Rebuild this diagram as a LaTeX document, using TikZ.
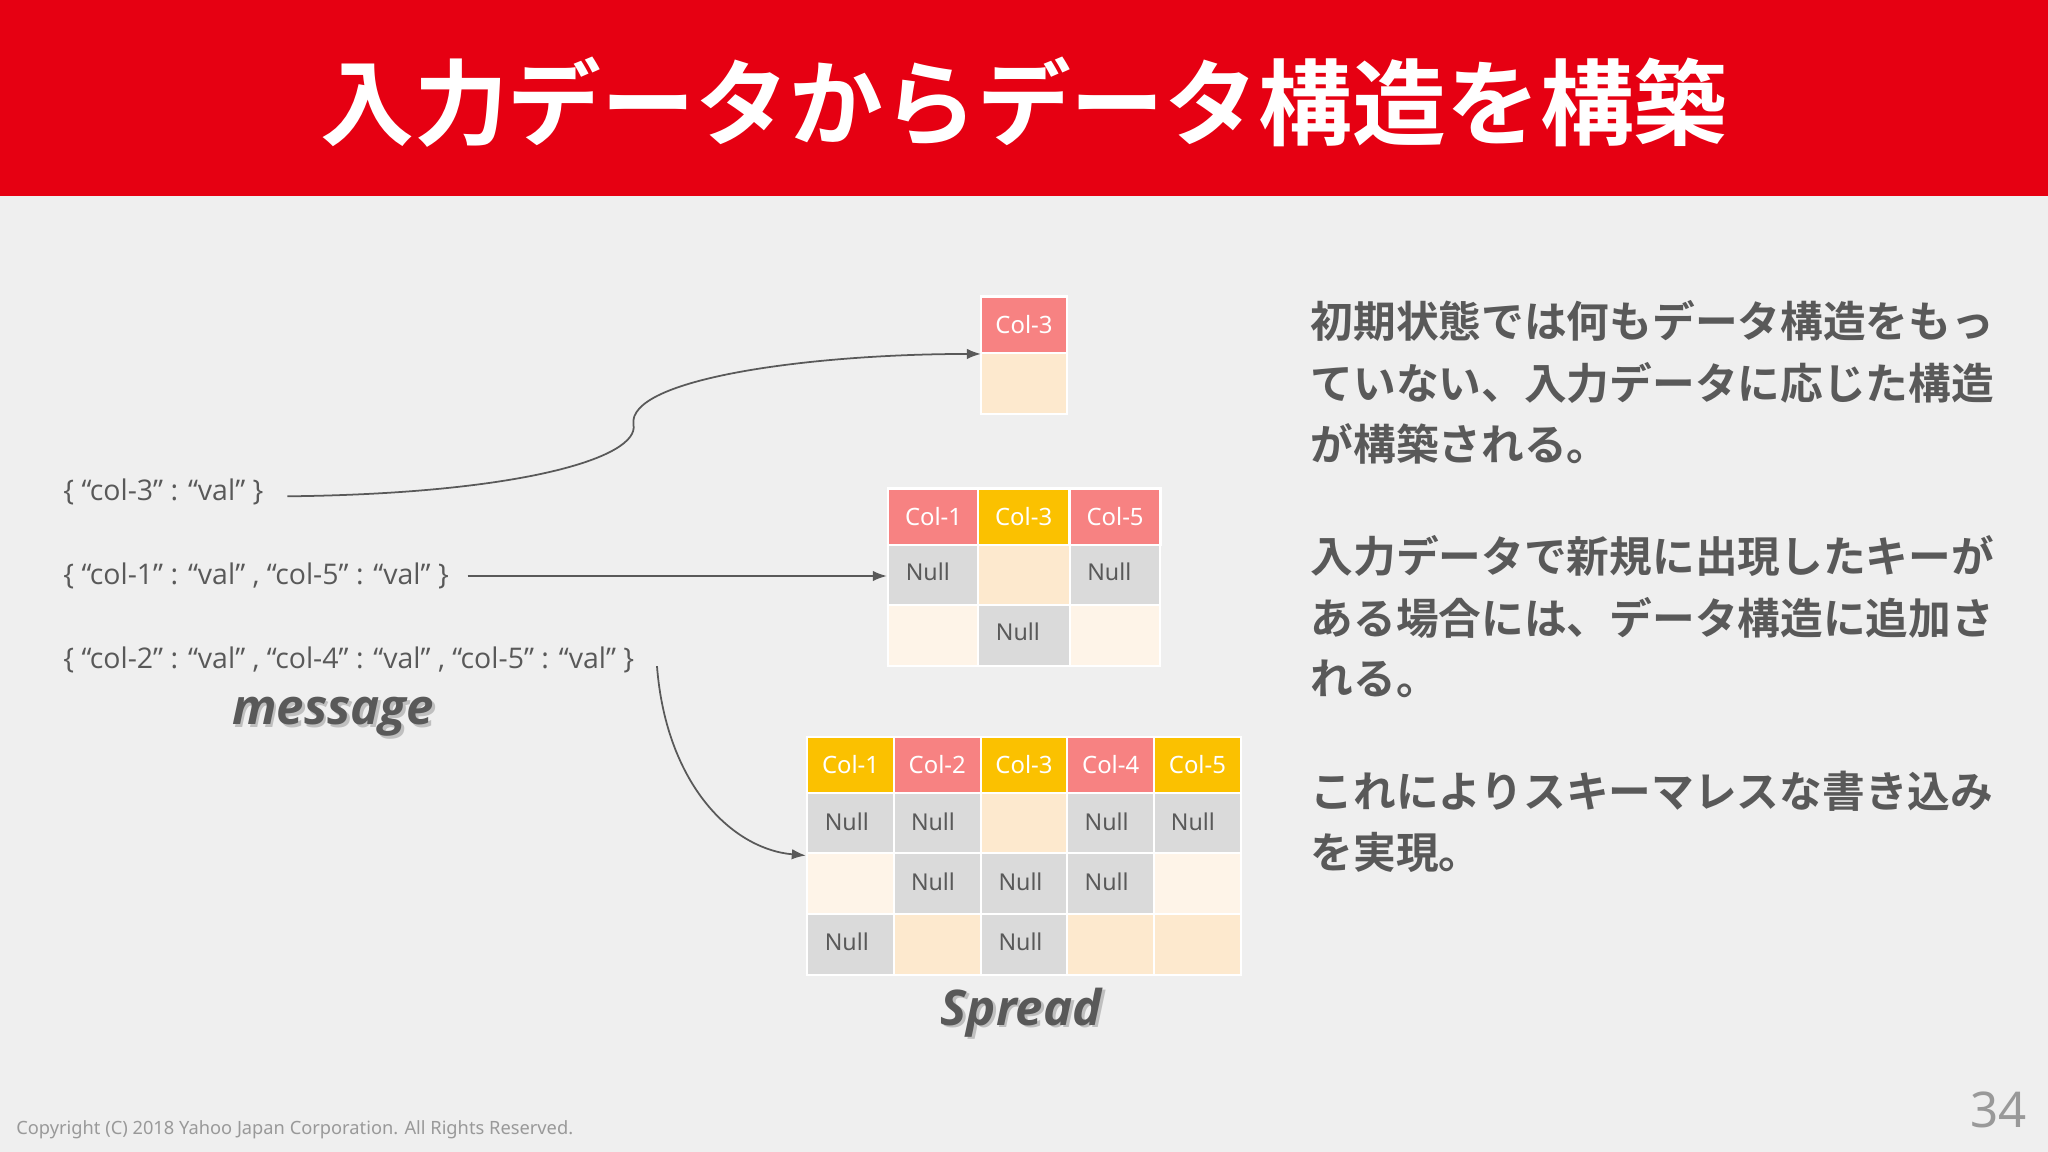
\documentclass[tikz,border=0pt]{standalone}
\usepackage{fontspec}
\setmainfont{Noto Sans}
\newfontfamily\jp{Noto Sans CJK JP}[BoldFont={Noto Sans CJK JP Bold}]
\newfontfamily\lab{Open Sans}
\usetikzlibrary{arrows.meta}
\definecolor{hdr}{HTML}{E60012}
\definecolor{bg}{HTML}{EFEFEF}
\definecolor{pk}{HTML}{F78282}
\definecolor{yl}{HTML}{FBC100}
\definecolor{pe}{HTML}{FDE9CE}
\definecolor{lt}{HTML}{FEF4E8}
\definecolor{gr}{HTML}{DADADA}
\definecolor{tx}{HTML}{595959}
\tikzset{
 cell/.style={draw=white,line width=0.6pt},
 htxt/.style={text=white,font=\fontsize{6.8}{8}\selectfont,anchor=center},
 ntxt/.style={text=tx,font=\fontsize{6.6}{8}\selectfont,anchor=west},
 msg/.style={text=tx,font=\lab\fontsize{8.1}{9}\selectfont,anchor=west,inner sep=0pt},
 jtx/.style={text=tx,font=\jp\bfseries\fontsize{12.15}{14}\selectfont,anchor=west,inner sep=0pt},
 arr/.style={draw=tx,line width=0.5pt,-{Latex[length=4pt,width=3pt]}},
 big/.style={text=tx,font=\lab\bfseries\itshape\fontsize{14}{16}\selectfont}
}
\newcommand{\cellbox}[6]{% x1 y1 x2 y2 color name
 \fill[#5] (#1,#2) rectangle (#3,#4);
 \draw[cell] (#1,#2) rectangle (#3,#4);
 \coordinate (#6) at ({(#1+#3)/2},{(#2+#4)/2});}
\begin{document}
\begin{tikzpicture}[x=0.013061cm,y=-0.013061cm]
\fill[bg] (0,0) rectangle (1568,882);
\fill[hdr] (0,0) rectangle (1568,150);
\node[text=white,font=\jp\bfseries\fontsize{26.7}{30}\selectfont] (title) at (784,78) {入力データからデータ構造を構築};
% table 1
\cellbox{751}{227}{817}{270}{pk}{a1}
\cellbox{751}{270}{817}{317}{pe}{a2}
\node[htxt] at (a1) {Col-3};
\coordinate (t1) at (751,271);
% table 2
\foreach \x/\c/\t [count=\i] in {680/pk/Col-1,749/yl/Col-3,819/pk/Col-5}{
 \cellbox{\x}{374}{\x+69.5}{417}{\c}{b\i}
 \node[htxt] at (b\i) {\t};}
\cellbox{680}{417}{749}{463}{gr}{c1}
\cellbox{749}{417}{819}{463}{pe}{c2}
\cellbox{819}{417}{888}{463}{gr}{c3}
\cellbox{680}{463}{749}{510}{lt}{d1}
\cellbox{749}{463}{819}{510}{gr}{d2}
\cellbox{819}{463}{888}{510}{lt}{d3}
\node[ntxt] at (684,438) {Null};
\node[ntxt] at (823,438) {Null};
\node[ntxt] at (753,484) {Null};
\coordinate (t2) at (679,441);
% table 3
\foreach \c/\t [count=\i] in {yl/Col-1,pk/Col-2,yl/Col-3,pk/Col-4,yl/Col-5}{
 \pgfmathsetmacro\xa{618+(\i-1)*66.4}
 \cellbox{\xa}{564}{\xa+66.4}{607}{\c}{e\i}
 \node[htxt] at (e\i) {\t};}
\foreach \r/\ya in {1/607,2/653,3/700}{
 \foreach \i in {1,...,5}{
  \pgfmathsetmacro\xa{618+(\i-1)*66.4}
  \pgfmathsetmacro\code{int(\r*10+\i)}
  \ifnum\code=13 \def\cc{pe}\fi
  \ifnum\code=11 \def\cc{gr}\fi \ifnum\code=12 \def\cc{gr}\fi
  \ifnum\code=14 \def\cc{gr}\fi \ifnum\code=15 \def\cc{gr}\fi
  \ifnum\code=21 \def\cc{lt}\fi \ifnum\code=22 \def\cc{gr}\fi
  \ifnum\code=23 \def\cc{gr}\fi \ifnum\code=24 \def\cc{gr}\fi
  \ifnum\code=25 \def\cc{lt}\fi
  \ifnum\code=31 \def\cc{gr}\fi \ifnum\code=32 \def\cc{pe}\fi
  \ifnum\code=33 \def\cc{gr}\fi \ifnum\code=34 \def\cc{pe}\fi
  \ifnum\code=35 \def\cc{pe}\fi
  \cellbox{\xa}{\ya}{\xa+66.4}{\ya+46.5}{\cc}{f\code}
 }}
\foreach \x/\y in {622/629,688/629,821/629,887/629,688/675,755/675,821/675,622/721,755/721}
 \node[ntxt] at (\x,\y) {Null};
\coordinate (t3) at (617,655);
% messages
\node[msg] (m1) at (48,377) {\{ “col-3” : “val” \}};
\node[msg] (m2) at (48,441) {\{ “col-1” : “val” , “col-5” : “val” \}};
\node[msg] (m3) at (48,505) {\{ “col-2” : “val” , “col-4” : “val” , “col-5” : “val” \}};
\node[big,text=gray!50] at (257,551) {message};
\node[big] (mlabel) at (255,549) {message};
\node[big,text=gray!50] at (784,777) {Spread};
\node[big] (slabel) at (782,775) {Spread};
\draw[arr] (220,380) .. controls (400,378) and (490,350) .. (485,325) .. controls (480,290) and (620,271) .. (t1);
\draw[arr] (358,441) -- (t2);
\draw[arr] (503,510) .. controls (510,600) and (560,650) .. (t3);
% right text
\node[jtx] (j1) at (1003,246) {初期状態では何もデータ構造をもっ};
\node[jtx] at (1003,293) {ていない、入力データに応じた構造};
\node[jtx] at (1003,340) {が構築される。};
\node[jtx] (j2) at (1003,426) {入力データで新規に出現したキーが};
\node[jtx] at (1003,473) {ある場合には、データ構造に追加さ};
\node[jtx] at (1003,520) {れる。};
\node[jtx] (j3) at (1003,606) {これによりスキーマレスな書き込み};
\node[jtx] at (1003,653) {を実現。};
\node[anchor=west,text=gray!80,font=\fontsize{5.2}{6}\selectfont,inner sep=0pt] (copy) at (12,865) {Copyright (C) 2018 Yahoo Japan Corporation. All Rights Reserved.};
\node[text=gray!80,font=\fontsize{14}{16}\selectfont] (pg) at (1530,850) {34};
\end{tikzpicture}
\end{document}
